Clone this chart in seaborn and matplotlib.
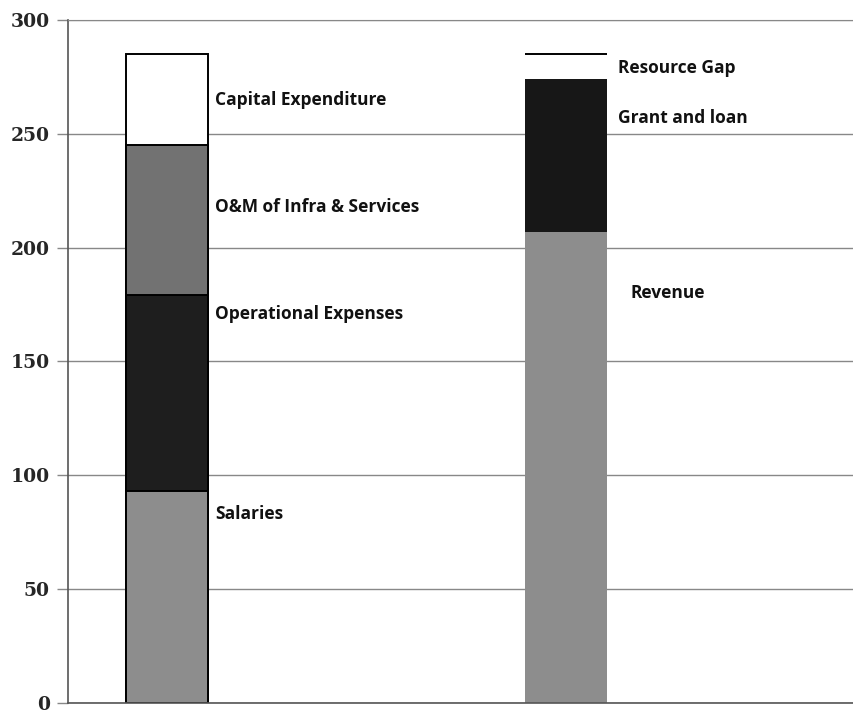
import numpy as np
import pandas as pd
import matplotlib
matplotlib.use('Agg')
import matplotlib.pyplot as plt
import seaborn as sns

# Data
columns = ["Expenditure", "Resources"]
exp_labels = ["Salaries", "Operational Expenses", "O&M of Infra & Services", "Capital Expenditure"]
exp_values = [93, 86, 66, 40]
res_labels = ["Revenue", "Grant and loan", "Resource Gap"]
res_values = [207, 67, 11]
y_ticks = [0, 50, 100, 150, 200, 250, 300]

exp_colors = ["#8d8d8d", "#1e1e1e", "#727272", "#ffffff"]
res_colors = ["#8d8d8d", "#171717", "#ffffff"]

sns.set_style("white")

fig = plt.figure(figsize=(8.54, 7.1), dpi=100)
ax = fig.add_axes([0.0796, 0.0099, 0.9204, 0.962])

bar_w = 0.205


def stack(col, values, colors, edge):
    tops = np.cumsum(values)
    # draw tallest first, then overlay lower segments
    for i in range(len(values) - 1, -1, -1):
        df = pd.DataFrame({"col": columns, "top": [tops[i] if c == col else 0 for c in columns]})
        sns.barplot(data=df, x="col", y="top", order=columns, color=colors[i],
                    saturation=1, width=bar_w, edgecolor=edge,
                    linewidth=1.4 if edge != "none" else 0, ax=ax, zorder=2)
    return tops


exp_tops = stack("Expenditure", exp_values, exp_colors, "black")
res_tops = stack("Resources", res_values, res_colors, "none")

# resource gap: only the top line is drawn
ax.hlines(res_tops[-1], 1 - bar_w / 2, 1 + bar_w / 2, color="black", lw=1.4, zorder=3)

# segment labels
lab_font = dict(family="Open Sans", fontweight="bold", fontsize=12.5, color="#111111",
                va="center", ha="left")
exp_label_y = [83, 171, 218, 265]
for lab, yy in zip(exp_labels, exp_label_y):
    ax.text(0.12, yy, lab, **lab_font)
res_label_pos = [(1.16, 180), (1.13, 257), (1.13, 279)]
for lab, (xx, yy) in zip(res_labels, res_label_pos):
    ax.text(xx, yy, lab, **lab_font)

ax.set_xlim(-0.248, 1.72)
ax.set_ylim(0, 300)
ax.set_yticks(y_ticks)
ax.set_yticklabels([str(t) for t in y_ticks], family="DejaVu Serif",
                   fontweight="bold", fontsize=13.5)
ax.set_xticks([])
ax.set_xlabel("")
ax.set_ylabel("")
ax.tick_params(axis="y", length=8, width=1, color="#888888", pad=5, left=True)
ax.grid(axis="y", color="#888888", lw=1, zorder=0)
ax.set_axisbelow(True)

for s in ["left", "bottom"]:
    ax.spines[s].set_color("#555555")
    ax.spines[s].set_linewidth(1.2)
    ax.spines[s].set_linestyle((0, (2, 1)))
ax.spines["top"].set_color("#888888")
ax.spines["top"].set_linestyle((0, (2, 1)))
ax.spines["right"].set_visible(False)

fig.savefig("out.png", dpi=100)
